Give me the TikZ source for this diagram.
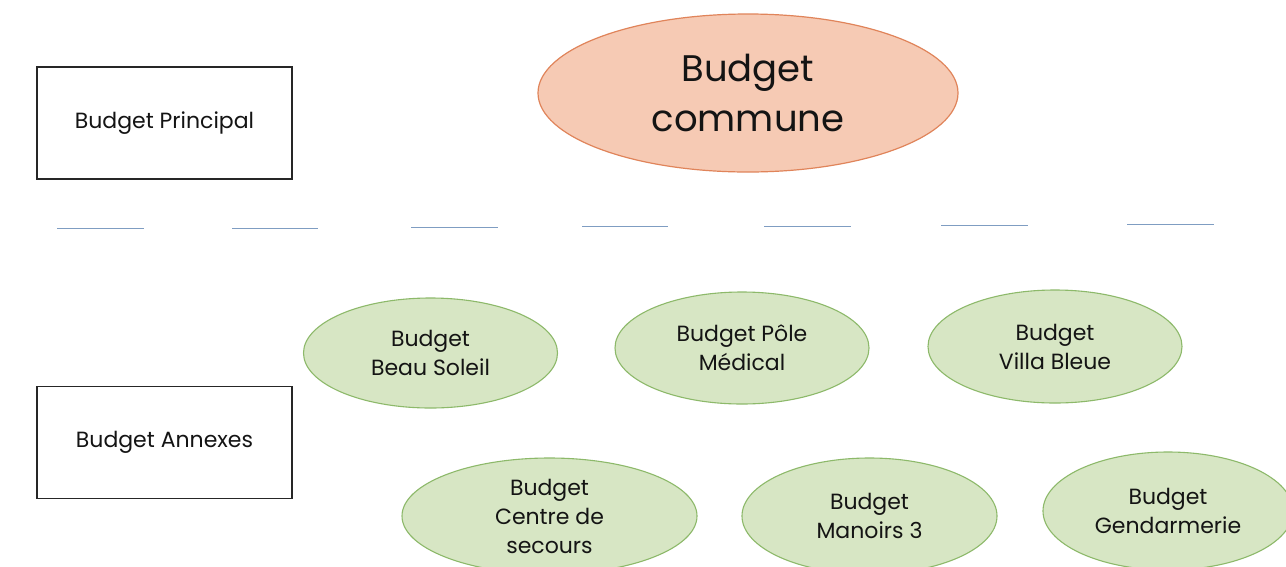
\documentclass[tikz,border=0pt]{standalone}
\usepackage{fontspec}
\setmainfont{Poppins}
\usetikzlibrary{shapes.geometric}
\definecolor{salfill}{HTML}{F6CAB4}
\definecolor{saldraw}{HTML}{E0845A}
\definecolor{grfill}{HTML}{D7E6C4}
\definecolor{grdraw}{HTML}{8DB96A}
\definecolor{sepcol}{HTML}{7F9DC2}
\definecolor{txt}{HTML}{141414}
\tikzset{
  labelbox/.style={draw=black!85, line width=1.2pt, minimum width=255pt, minimum height=112pt, inner sep=0pt, font=\fontsize{22}{26}\selectfont, text=txt},
  rootell/.style={ellipse, draw=saldraw, line width=1.2pt, fill=salfill, minimum width=420pt, minimum height=158pt, inner sep=0pt, align=center, font=\fontsize{37}{50}\selectfont, text=txt},
  budell/.style={ellipse, draw=grdraw, line width=1.1pt, fill=grfill, minimum width=254pt, minimum height=112pt, inner sep=0pt, align=center, font=\fontsize{22}{29}\selectfont, text=txt},
  sepline/.style={draw=sepcol, line width=0.8pt}
}
\begin{document}
\begin{tikzpicture}[x=1pt,y=-1pt]
\useasboundingbox[fill=white] (0,0) rectangle (1286,566);
\begin{scope}
\clip (0,0) rectangle (1286,566);
\node[labelbox] (principal) at (164.5,123) {Budget Principal};
\node[labelbox] (annexes) at (164.5,442.5) {Budget Annexes};
\node[rootell] (commune) at (748,93) {Budget\\commune};
\node[budell, minimum height=110pt] (beau) at (430.5,353) {Budget\\Beau Soleil};
\node[budell] (pole) at (742,348) {Budget Pôle\\Médical};
\node[budell, minimum height=113pt] (villa) at (1055,346.5) {Budget\\Villa Bleue};
\node[budell, minimum width=295pt, minimum height=116pt] (centre) at (549.5,516) {Budget\\Centre de\\secours};
\node[budell, minimum width=255pt, minimum height=116pt] (manoirs) at (869.5,516) {Budget\\Manoirs 3};
\node[budell, minimum width=250pt, minimum height=118pt] (gend) at (1168,511) {Budget\\Gendarmerie};
\draw[sepline] (57,228) -- (144,228);
\draw[sepline] (232,228) -- (318,228);
\draw[sepline] (411,227) -- (498,227);
\draw[sepline] (582,226) -- (668,226);
\draw[sepline] (764,226) -- (851,226);
\draw[sepline] (941,225) -- (1028,225);
\draw[sepline] (1127,224) -- (1214,224);
\end{scope}
\end{tikzpicture}
\end{document}
